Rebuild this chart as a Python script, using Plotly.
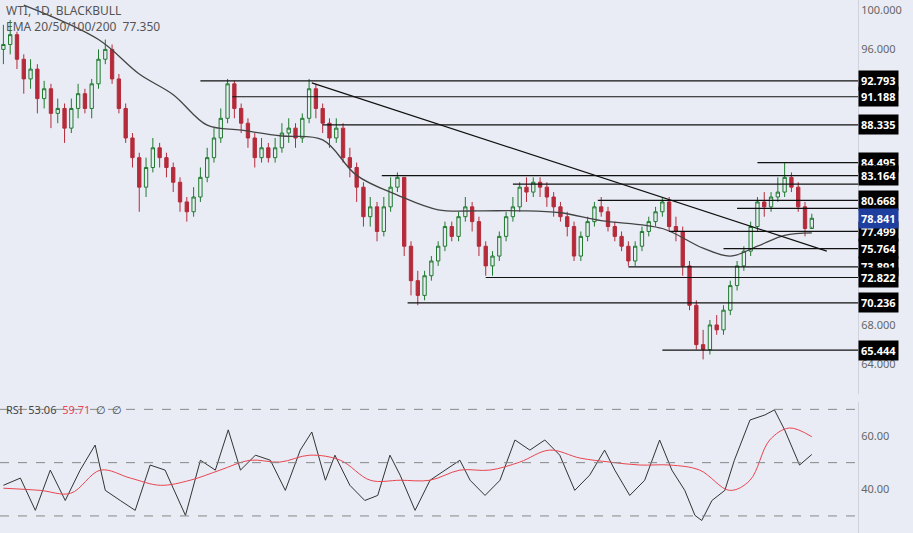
import plotly.graph_objects as go

# daily candles
closes = [96.5, 97.5, 95, 93, 94, 91, 92, 89.5, 90, 88,
          90, 91.5, 90, 92.5, 95, 96, 93, 90, 87, 85,
          82, 84, 86, 85, 84, 82.5, 80.5, 79.5, 81, 83,
          85, 87, 89, 92.5, 90, 88.5, 87, 85, 86, 85,
          86, 87.5, 88, 87, 89, 92, 90, 88.5, 87, 88,
          85, 84, 82, 79, 80, 77.5, 80, 82, 83, 76,
          72.5, 71, 73, 74.5, 76, 78, 77, 79, 80, 78.5,
          76, 74, 75, 77, 79, 80, 82, 81.5, 82.5, 82,
          81, 80, 79, 78, 75, 77, 78.5, 80, 79.5, 78,
          77, 76, 74.5, 76, 77.5, 78.5, 79.5, 80.5, 78, 77.5,
          74, 70, 66, 65.5, 68, 67.5, 69.5, 72, 74, 75.5,
          78, 80.5, 80, 81, 81.5, 83, 82, 80, 77.8, 78.84]
highs = [98.5, 99, 97.8, 95.5, 95, 94.5, 92.8, 92.5, 91, 90.5,
         91, 92.5, 92, 93, 96, 97, 96.5, 93.5, 90.5, 87.5,
         85.5, 85, 87, 86.5, 85.5, 84.5, 83, 81, 82, 84,
         86, 88, 90, 93, 92.8, 90.5, 89, 87.5, 87, 86.5,
         87, 88.5, 89, 88.5, 89.5, 93, 92.5, 90.5, 89, 89,
         88.5, 86, 84.5, 82.5, 81, 80.5, 81, 83, 83.5, 83,
         76.5, 73.5, 73.5, 75, 76.5, 78.5, 78.5, 79.5, 81, 80.5,
         79, 76.5, 75.5, 77.5, 79.5, 81, 82.5, 83, 83, 83,
         82.5, 81.5, 80.5, 79.5, 78.5, 77.5, 79, 80.5, 81, 80,
         78.5, 77.5, 76.5, 76.5, 78, 79, 80, 81, 81, 79,
         78, 74.5, 70.5, 67.5, 68.5, 69, 70, 72.5, 74.5, 76,
         78.5, 81, 81.5, 81.5, 83, 84.5, 83.5, 82.5, 80.5, 79.3]
lows = [94.5, 95.5, 94, 91.5, 92, 89.5, 90, 88, 88.5, 86.5,
        87.5, 89, 89.5, 89, 92, 94.5, 92.5, 89.5, 86.5, 84,
        79.5, 81, 83.5, 84, 83, 81.5, 79.5, 78.5, 79, 80.5,
        82.5, 84.5, 86.5, 88.5, 89, 87.5, 86, 84, 84.5, 84.5,
        84.5, 85.5, 86.5, 86, 86.5, 88.5, 89, 87.5, 86, 86.5,
        84.5, 83, 80.5, 78, 78, 76.5, 77, 79.5, 81.5, 75,
        71, 70, 70.5, 72.5, 74, 75.5, 76.5, 76.5, 78.5, 77.5,
        75, 73, 73, 74.5, 76.5, 78.5, 79.5, 80.5, 81, 81,
        80, 79, 78.5, 77, 74.5, 74.5, 76.5, 78, 79, 77.5,
        76.5, 75.5, 74, 74, 75.5, 77, 78, 79, 77.5, 76.5,
        73, 69.5, 65.5, 64.5, 65, 67, 67, 69, 71.5, 73.5,
        75, 77.5, 79, 79.5, 80.5, 81, 81.5, 79.5, 77, 78]
opens = [96] + closes[:-1]
idx = list(range(len(closes)))

ema_x = [3, 14, 20, 25, 30, 35, 41, 47, 52, 58, 64, 70, 76, 82, 88, 97, 103, 107, 111, 115, 119]
ema_y = [100.5, 97, 93.5, 91.4, 88.3, 87.8, 87.2, 86.8, 83.2, 81.2, 79.7, 79.6, 79.6, 79.4, 78.6,
         77.8, 75.8, 75.0, 76.0, 77.1, 77.35]

trend_x = [45.4, 121.2]
trend_y = [92.6, 75.5]

levels = [92.793, 91.188, 88.335, 84.495, 83.164, 82.3, 80.668, 79.85, 77.499, 75.764, 73.891, 72.822, 70.236, 65.444]
level_start = [29, 33.7, 47, 111, 55.7, 75, 87.5, 108, 98, 106, 92, 71, 59.5, 97]
level_label = [True, True, True, True, True, False, True, False, True, True, True, True, True, True]
last_price = 78.841

rsi_x = [0, 2.5, 4.7, 6.9, 9.1, 11.3, 13.5, 15, 17.2, 19.4, 21.6, 23.8, 26.8, 29, 31.2, 33.1, 34.9,
         37.1, 39.3, 41.5, 43.7, 45.4, 47.4, 48.8, 51, 53.2, 55.1, 56.9, 58.4, 60.6, 62.8, 65, 67.2,
         68.7, 70.9, 73.1, 75.3, 77.5, 79.7, 81.9, 84.1, 86.3, 88.5, 90, 92.2, 94.4, 96.6, 98.4,
         100.3, 101.8, 102.8, 104.3, 106.2, 107.6, 109.9, 112.1, 113.5, 115, 117.2, 119]
rsi_y = [41.5, 44.2, 32.1, 47.2, 35.8, 47.2, 56.6, 39.6, 35.8, 32.1, 49.1, 47.2, 30.2, 50.9, 47.2, 62.3,
         47.2, 52.8, 50.9, 39.6, 54.7, 61.5, 43.4, 52.8, 41.5, 35.8, 37.7, 52.8, 45.3, 32.1, 43.4, 47.2,
         50.9, 43.4, 37.7, 43.4, 58.5, 54.7, 58.5, 52.8, 39.6, 45.3, 54.7, 47.2, 37.7, 43.4, 58.5, 47.2,
         39.6, 30.2, 28.3, 35.8, 39.6, 50.9, 66, 67.9, 69.8, 62.3, 49.1, 53.06]
sig_x = [0, 5.4, 9.9, 14.3, 18.7, 23.1, 27.5, 31.9, 36.3, 40.7, 45.1, 49.6, 54, 58.4, 62.8, 67.2,
         71.6, 76, 80.4, 84.9, 89.3, 93.7, 98.1, 102.5, 106.9, 109.9, 112.8, 115.7, 119]
sig_y = [40.4, 39.6, 38.5, 47.2, 44.2, 41.5, 43.4, 47.2, 50.9, 50.2, 52.8, 50.9, 43.4, 43.4, 43.4, 47.2,
         47.2, 50.2, 54.7, 51.7, 50.2, 49.1, 49.1, 47.2, 39.6, 43.4, 58.5, 63, 59.71]

fig = go.Figure()
fig.add_trace(go.Candlestick(x=idx, open=opens, high=highs, low=lows, close=closes,
                             increasing=dict(line=dict(color="#1f7a2e", width=1), fillcolor="#e9ecf5"),
                             decreasing=dict(line=dict(color="#b52b3a", width=1), fillcolor="#b52b3a"),
                             whiskerwidth=0, showlegend=False))
fig.add_trace(go.Scatter(x=ema_x, y=ema_y, mode="lines", line=dict(color="#444", width=1.3, shape="spline"),
                         showlegend=False))
fig.add_trace(go.Scatter(x=trend_x, y=trend_y, mode="lines", line=dict(color="#111", width=1.2), showlegend=False))
for lv, st in zip(levels, level_start):
    fig.add_trace(go.Scatter(x=[st, 125.8], y=[lv, lv], mode="lines", line=dict(color="#111", width=1.2),
                             showlegend=False))

fig.add_trace(go.Scatter(x=rsi_x, y=rsi_y, yaxis="y2", mode="lines", line=dict(color="#333", width=1),
                         showlegend=False))
fig.add_trace(go.Scatter(x=sig_x, y=sig_y, yaxis="y2", mode="lines", line=dict(color="#e8454f", width=1, shape="spline"),
                         showlegend=False))
for lv in [70, 50, 30]:
    fig.add_shape(type="line", xref="paper", x0=0, x1=1, yref="y2", y0=lv, y1=lv,
                  line=dict(color="#888", width=1, dash="dash"))

ann = []
for lv, show in zip(levels, level_label):
    if show:
        ann.append(dict(x=1.0, xref="paper", xanchor="left", y=lv, yref="y", text=f"<b>{lv:.3f}</b>",
                        showarrow=False, bgcolor="#000", font=dict(color="white", size=11), borderpad=2))
ann.append(dict(x=1.0, xref="paper", xanchor="left", y=last_price, yref="y", text=f"<b>{last_price:.3f}</b>",
                showarrow=False, bgcolor="#1e3fa0", font=dict(color="white", size=11), borderpad=2))
ann.append(dict(x=0.005, xref="paper", xanchor="left", y=1.0, yref="paper", yanchor="top",
                text="WTI, 1D, BLACKBULL<br>EMA 20/50/100/200  77.350", align="left", showarrow=False,
                font=dict(color="#555", size=12)))
ann.append(dict(x=0.005, xref="paper", xanchor="left", y=70, yref="y2",
                text="RSI  53.06  <span style='color:#e8454f'>59.71</span>  ∅  ∅", showarrow=False,
                font=dict(color="#444", size=11)))
fig.update_layout(
    width=913, height=533, margin=dict(l=0, r=55, t=0, b=0, autoexpand=False),
    paper_bgcolor="#e9ecf5", plot_bgcolor="#e9ecf5", font=dict(family="Noto Sans", color="#666"),
    xaxis=dict(range=[-0.5, 125.8], visible=False, rangeslider=dict(visible=False)),
    yaxis=dict(domain=[0.26, 1], range=[60.94, 101.02], side="right", showgrid=False, zeroline=False,
               tickvals=[64, 68, 96, 100], tickformat=".3f",
               tickfont=dict(size=11, color="#666"), showline=True, linecolor="#d0d3dc"),
    yaxis2=dict(domain=[0, 0.245], range=[23.6, 72.6], side="right", showgrid=False, zeroline=False,
                tickvals=[40, 60], tickformat=".2f", tickfont=dict(size=11, color="#666"),
                showline=True, linecolor="#d0d3dc"),
    annotations=ann,
)
fig.write_html("out.html", config={"displayModeBar": False},
               post_script="document.body.style.margin='0';document.body.style.background='#e9ecf5';")
